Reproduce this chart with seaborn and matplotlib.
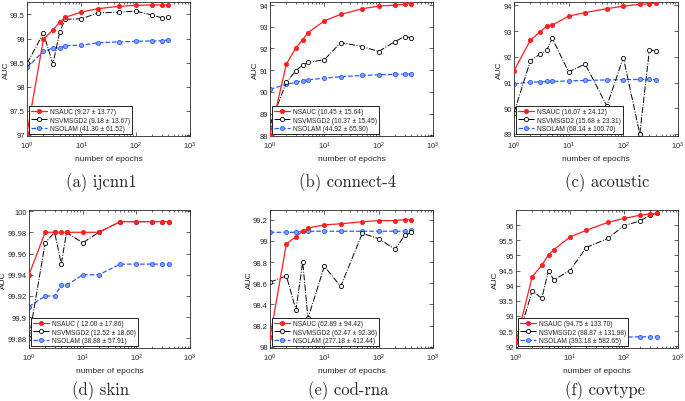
import numpy as np
import pandas as pd
import seaborn as sns
import matplotlib.pyplot as plt

epochs = [1, 2, 3, 4, 5, 10, 20, 50, 100, 200, 300, 400]

# (a) ijcnn1
ijcnn1_nsauc = [97.03, 98.98, 99.18, 99.34, 99.44, 99.55, 99.62, 99.67, 99.69, 99.70, 99.70, 99.70]
ijcnn1_nsvmsgd2 = [98.48, 99.11, 98.47, 99.13, 99.40, 99.41, 99.53, 99.55, 99.57, 99.49, 99.43, 99.44]
ijcnn1_nsolam = [98.40, 98.73, 98.80, 98.80, 98.85, 98.86, 98.91, 98.93, 98.94, 98.95, 98.95, 98.97]
# (b) connect-4
connect4_nsauc = [88.0, 91.28, 92.04, 92.40, 92.73, 93.27, 93.57, 93.83, 93.95, 94.00, 94.04, 94.06]
connect4_nsvmsgd2 = [88.5, 90.44, 90.98, 91.24, 91.36, 91.48, 92.27, 92.09, 91.86, 92.32, 92.55, 92.49]
connect4_nsolam = [90.12, 90.35, 90.44, 90.52, 90.55, 90.64, 90.70, 90.76, 90.79, 90.81, 90.82, 90.82]
# (c) acoustic
acoustic_nsauc = [91.46, 92.65, 92.97, 93.20, 93.23, 93.58, 93.72, 93.87, 93.97, 94.04, 94.06, 94.09]
acoustic_nsvmsgd2 = [89.83, 91.85, 92.10, 92.27, 92.72, 91.41, 91.72, 90.09, 91.97, 89.00, 92.27, 92.23]
acoustic_nsolam = [90.95, 91.01, 91.03, 91.04, 91.04, 91.06, 91.08, 91.10, 91.11, 91.12, 91.12, 91.11]
# (d) skin
skin_nsauc = [99.94, 99.98, 99.98, 99.98, 99.98, 99.98, 99.98, 99.99, 99.99, 99.99, 99.99, 99.99]
skin_nsvmsgd2 = [99.88, 99.97, 99.98, 99.95, 99.98, 99.97, 99.98, 99.99, 99.99, 99.99, 99.99, 99.99]
skin_nsolam = [99.91, 99.92, 99.92, 99.93, 99.93, 99.94, 99.94, 99.95, 99.95, 99.95, 99.95, 99.95]
# (e) cod-rna
codrna_nsauc = [98.09, 98.97, 99.04, 99.09, 99.12, 99.15, 99.16, 99.18, 99.19, 99.19, 99.20, 99.20]
codrna_nsvmsgd2 = [98.61, 98.67, 98.35, 98.80, 98.27, 98.76, 98.57, 99.07, 99.02, 98.92, 99.05, 99.08]
codrna_nsolam = [99.08, 99.08, 99.08, 99.09, 99.09, 99.09, 99.09, 99.09, 99.09, 99.09, 99.09, 99.10]
# (f) covtype
covtype_nsauc = [92.14, 94.30, 94.67, 95.02, 95.19, 95.61, 95.83, 96.09, 96.22, 96.33, 96.37, 96.39]
covtype_nsvmsgd2 = [92.05, 93.83, 93.58, 94.50, 94.19, 94.50, 95.26, 95.56, 95.98, 96.14, 96.33, 96.39]
covtype_nsolam = [92.03, 92.10, 92.15, 92.18, 92.20, 92.23, 92.26, 92.28, 92.30, 92.31, 92.31, 92.32]

captions = ['(a) ijcnn1', '(b) connect-4', '(c) acoustic', '(d) skin', '(e) cod-rna', '(f) covtype']
legend_stats = [
    ['(9.27 ± 13.77)', '(9.18 ± 13.67)', '(41.30 ± 61.52)'],
    ['(10.45 ± 15.64)', '(10.37 ± 15.45)', '(44.92 ± 65.90)'],
    ['(16.07 ± 24.12)', '(15.68 ± 23.31)', '(68.14 ± 100.70)'],
    ['( 12.00 ± 17.86)', '(12.52 ± 18.60)', '(38.88 ± 57.91)'],
    ['(62.89 ± 94.42)', '(62.47 ± 92.36)', '(277.18 ± 412.44)'],
    ['(94.75 ± 133.70)', '(88.87 ± 131.98)', '(393.18 ± 582.65)'],
]
panel_data = [
    (ijcnn1_nsauc, ijcnn1_nsvmsgd2, ijcnn1_nsolam),
    (connect4_nsauc, connect4_nsvmsgd2, connect4_nsolam),
    (acoustic_nsauc, acoustic_nsvmsgd2, acoustic_nsolam),
    (skin_nsauc, skin_nsvmsgd2, skin_nsolam),
    (codrna_nsauc, codrna_nsvmsgd2, codrna_nsolam),
    (covtype_nsauc, covtype_nsvmsgd2, covtype_nsolam),
]
y_ticks = [
    [97, 97.5, 98, 98.5, 99, 99.5],
    [88, 89, 90, 91, 92, 93, 94],
    [89, 90, 91, 92, 93, 94],
    [99.88, 99.9, 99.92, 99.94, 99.96, 99.98, 100],
    [98, 98.2, 98.4, 98.6, 98.8, 99, 99.2],
    [92, 92.5, 93, 93.5, 94, 94.5, 95, 95.5, 96],
]
y_limits = [(96.97, 99.76), (87.97, 94.14), (88.92, 94.13),
            (99.871, 100.001), (97.99, 99.29), (91.94, 96.5)]

names = ['NSAUC', 'NSVMSGD2', 'NSOLAM']
colors = ['#ff2020', 'black', '#2a5cff']
linestyles = ['-', '-.', '--']
facecolors = ['#ff2020', 'white', '#7fa0ff']

sns.set_style('ticks')
plt.rcParams['font.family'] = ['Liberation Sans', 'DejaVu Sans']
plt.rcParams['axes.formatter.use_mathtext'] = True

fig = plt.figure(figsize=(6.85, 4.02), dpi=100)

# axes boxes in pixels: left, top, right, bottom
boxes = [(27, 3, 190, 137), (270, 3, 433, 137), (514, 3, 678, 137),
         (29, 211, 190, 349), (270, 211, 433, 349), (516, 211, 678, 349)]
cap_pos = [(101, 183), (348, 183), (607, 183), (101, 391), (348, 391), (605, 391)]
W, H = 685, 402

for i in range(6):
    l, t, r, b = boxes[i]
    ax = fig.add_axes([l / W, 1 - b / H, (r - l) / W, (b - t) / H])
    for j in range(3):
        df = pd.DataFrame({'epochs': epochs, 'auc': panel_data[i][j]})
        sns.lineplot(data=df, x='epochs', y='auc', ax=ax, color=colors[j],
                     linestyle=linestyles[j], linewidth=0.9 if j != 1 else 0.7,
                     marker='o', markersize=3, markerfacecolor=facecolors[j],
                     markeredgecolor=colors[j], markeredgewidth=0.6,
                     label=names[j] + ' ' + legend_stats[i][j], zorder=3 - j)
    ax.set_xscale('log')
    ax.set_xlim(1, 1000)
    ax.set_ylim(*y_limits[i])
    ax.set_yticks(y_ticks[i])
    ax.set_yticklabels([('%g' % v) for v in y_ticks[i]])
    ax.tick_params(which='both', direction='in', top=True, right=True,
                   labelsize=5.5, width=0.5, pad=2.5)
    ax.tick_params(axis='y', pad=1.5)
    ax.tick_params(which='major', length=3)
    ax.tick_params(which='minor', length=1.5)
    for s in ax.spines.values():
        s.set_linewidth(0.6)
    ax.set_xlabel('number of epochs', fontsize=6, labelpad=3)
    ax.set_ylabel('AUC', fontsize=6, labelpad=0.3)
    leg = ax.legend(loc='lower left', fontsize=4.8, fancybox=False, framealpha=1,
                    edgecolor='black', borderpad=0.3, handlelength=2.4,
                    handletextpad=0.4, labelspacing=0.2, borderaxespad=0.3)
    leg.get_frame().set_linewidth(0.6)
    fig.text(cap_pos[i][0] / W, 1 - cap_pos[i][1] / H, captions[i],
             fontsize=12, family='cmr10', ha='center', va='center')

fig.savefig('out.png', dpi=100)
